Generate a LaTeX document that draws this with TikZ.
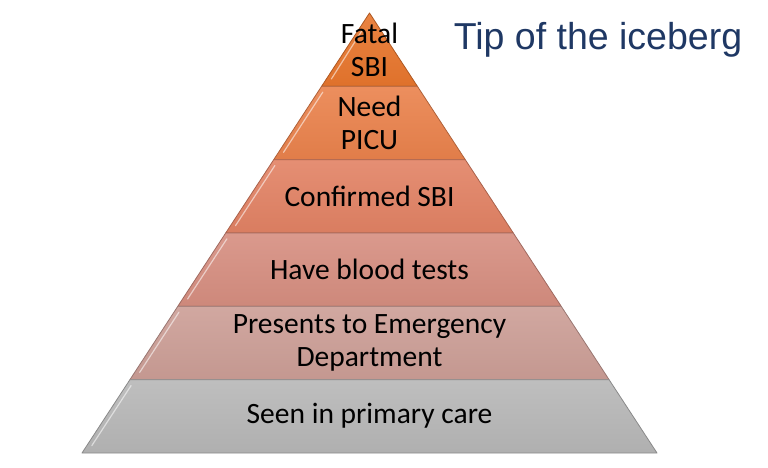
\documentclass[tikz,border=0pt]{standalone}
\usepackage{fontspec}
\setmainfont{Carlito}
\newfontfamily\titlefont{Liberation Sans}
\usepackage{xcolor}
\usepackage{tikz}
\usetikzlibrary{calc}
\definecolor{lvlfatal}{RGB}{232,118,45}
\definecolor{lvlpicu}{RGB}{234,130,76}
\definecolor{lvlsbi}{RGB}{226,130,100}
\definecolor{lvlblood}{RGB}{214,142,128}
\definecolor{lvled}{RGB}{204,158,150}
\definecolor{lvlgp}{RGB}{183,183,183}
\definecolor{titleblue}{RGB}{31,56,100}

\begin{document}
\begin{tikzpicture}[x=1pt, y=-1pt,
    layer/.style={draw=#1!75!black, line width=0.8pt, line join=round,
        top color=#1!90!white, bottom color=#1!96!black},
    shine/.style={draw=white, line width=1.2pt, opacity=0.55, line cap=round},
    lvltext/.style={font=\fontsize{29.5}{33}\selectfont, align=center, text=black}
]
\useasboundingbox (0,0) rectangle (768,468);

% corners of the pyramid bands
\coordinate (l0) at (369.5,13);    \coordinate (r0) at (369.5,13);
\coordinate (l1) at (321.6,86.3);  \coordinate (r1) at (417.4,86.3);
\coordinate (l2) at (273.7,159.7); \coordinate (r2) at (465.3,159.7);
\coordinate (l3) at (225.7,233);   \coordinate (r3) at (513.3,233);
\coordinate (l4) at (177.8,306.3); \coordinate (r4) at (561.2,306.3);
\coordinate (l5) at (129.9,379.7); \coordinate (r5) at (609.1,379.7);
\coordinate (l6) at (82,453);      \coordinate (r6) at (657,453);

\path[layer=lvlfatal] (l0) -- (r1) -- (l1) -- cycle;
\path[layer=lvlpicu]  (l1) -- (r1) -- (r2) -- (l2) -- cycle;
\path[layer=lvlsbi]   (l2) -- (r2) -- (r3) -- (l3) -- cycle;
\path[layer=lvlblood] (l3) -- (r3) -- (r4) -- (l4) -- cycle;
\path[layer=lvled]    (l4) -- (r4) -- (r5) -- (l5) -- cycle;
\path[layer=lvlgp]    (l5) -- (r5) -- (r6) -- (l6) -- cycle;

% bevel highlights on the left edges
\draw[shine] ($(l0)!0.25!(l1)+(4,0)$) -- ($(l0)!0.9!(l1)+(5,0)$);
\draw[shine] ($(l1)!0.08!(l2)+(5,0)$) -- ($(l1)!0.9!(l2)+(5,0)$);
\draw[shine] ($(l2)!0.08!(l3)+(5,0)$) -- ($(l2)!0.9!(l3)+(5,0)$);
\draw[shine] ($(l3)!0.08!(l4)+(5,0)$) -- ($(l3)!0.9!(l4)+(5,0)$);
\draw[shine] ($(l4)!0.08!(l5)+(5,0)$) -- ($(l4)!0.9!(l5)+(5,0)$);
\draw[shine] ($(l5)!0.08!(l6)+(5,0)$) -- ($(l5)!0.9!(l6)+(5,0)$);

\node[lvltext] (fatal) at (369.5,50)  {Fatal\\SBI};
\node[lvltext] (picu)  at (369.5,123) {Need\\PICU};
\node[lvltext] (sbi)   at (369.5,196) {Confirmed SBI};
\node[lvltext] (blood) at (369.5,269) {Have blood tests};
\node[lvltext] (ed)    at (369.5,343) {Presents to Emergency\\Department};
\node[lvltext] (gp)    at (369.5,416) {Seen in primary care};

\node[font=\titlefont\fontsize{37.5}{42}\selectfont, text=titleblue] (title) at (598,40)
    {Tip of the iceberg};
\end{tikzpicture}
\end{document}
